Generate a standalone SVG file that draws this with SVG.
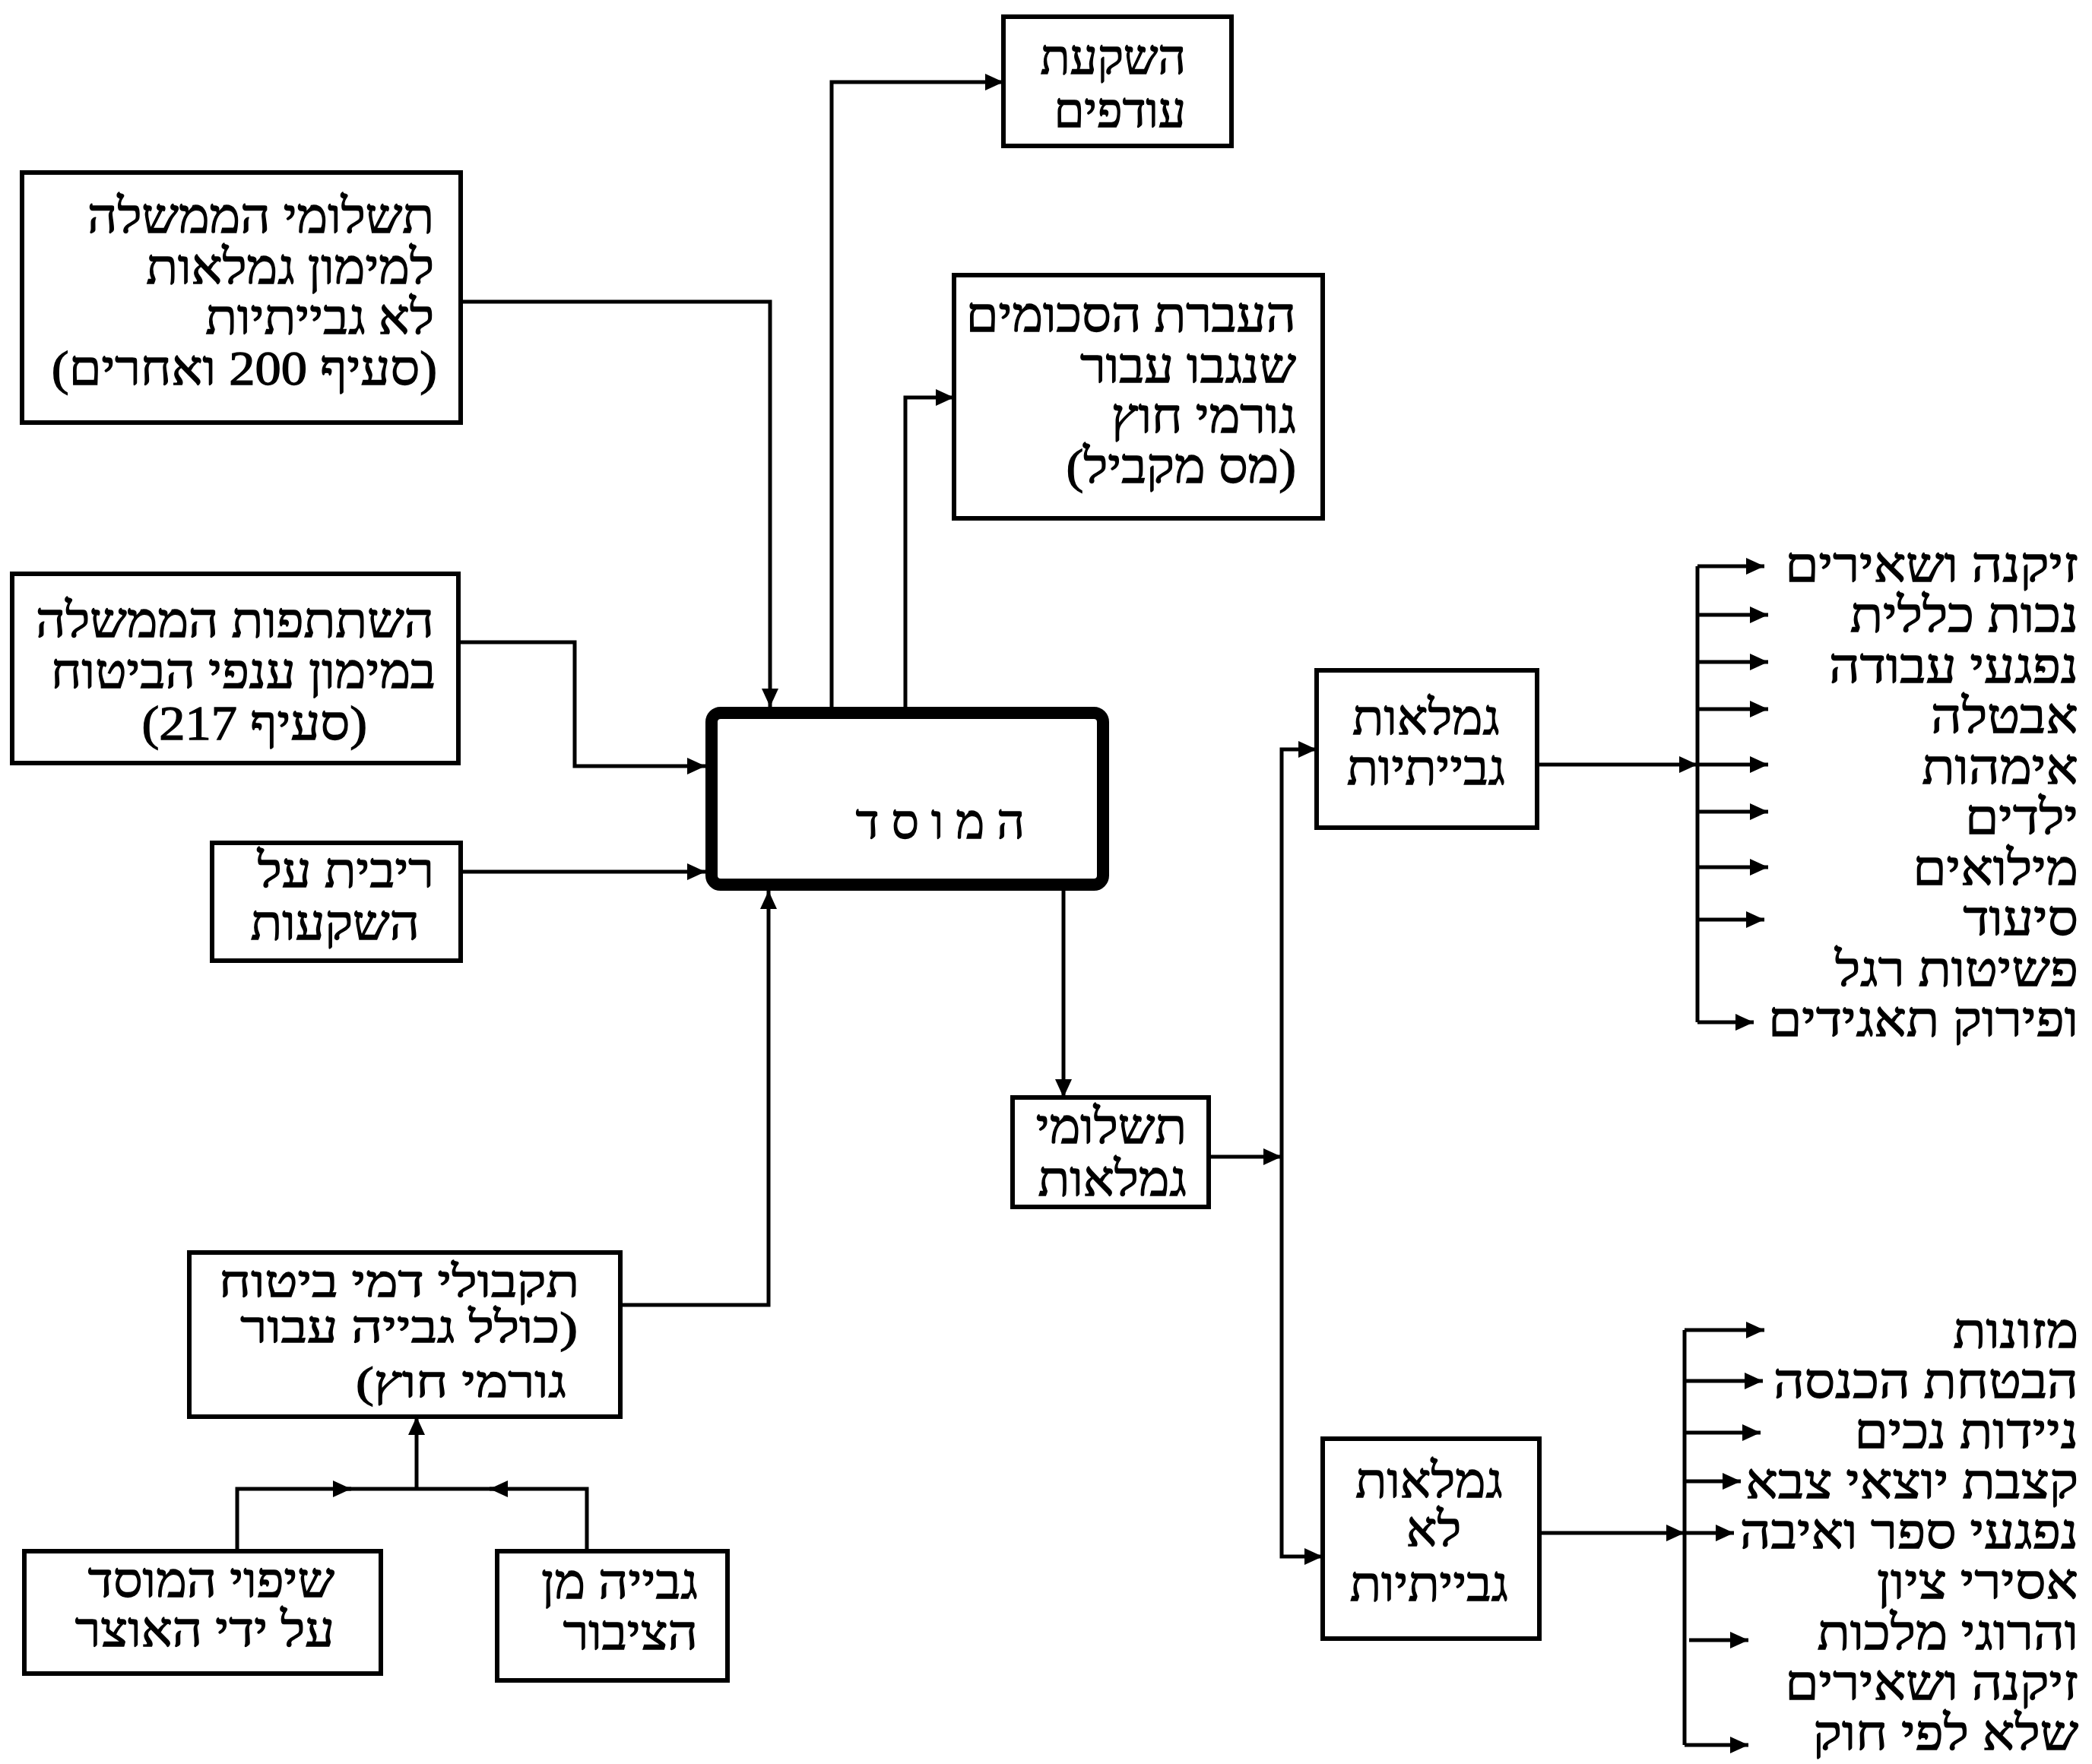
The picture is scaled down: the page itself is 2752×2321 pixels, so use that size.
<svg xmlns="http://www.w3.org/2000/svg" width="2752" height="2321" viewBox="0 0 2752 2321">
<style>
.box{fill:#fff;stroke:#000;stroke-width:6}
.core{fill:#fff;stroke:#000;stroke-width:16}
.ln{fill:none;stroke:#000;stroke-width:5}
text{font-family:"Liberation Serif","DejaVu Sans",serif;font-size:64px;fill:#000;stroke:#000;stroke-width:1.3;direction:rtl;unicode-bidi:embed;transform-box:fill-box}
.r{text-anchor:start;transform-origin:100% 50%;transform:scaleX(1.07)}
.m{text-anchor:middle;transform-origin:50% 50%;transform:scaleX(1.06)}
.n{transform:none}
.l{transform:scaleX(1.11)}
.e{font-size:58px;transform:scaleX(1.23)}
</style>
<defs>
<marker id="ah" markerUnits="userSpaceOnUse" markerWidth="26" markerHeight="22" refX="24" refY="11" orient="auto">
<path d="M0,0 L24,11 L0,22 z" fill="#000"/>
</marker>
</defs>
<rect width="2752" height="2321" fill="#fff"/>
<g id="connectors">
<path class="ln" d="M606,397 H1013 V930" marker-end="url(#ah)"/>
<path class="ln" d="M1094,930 V108 H1320" marker-end="url(#ah)"/>
<path class="ln" d="M1191,930 V523 H1255" marker-end="url(#ah)"/>
<path class="ln" d="M603,845 H756 V1008 H928" marker-end="url(#ah)"/>
<path class="ln" d="M606,1147 H928" marker-end="url(#ah)"/>
<path class="ln" d="M816,1717 H1011 V1172" marker-end="url(#ah)"/>
<path class="ln" d="M1399,1172 V1444" marker-end="url(#ah)"/>
<path class="ln" d="M1590,1522 H1686" marker-end="url(#ah)"/>
<path class="ln" d="M1686,1522 V986 H1732" marker-end="url(#ah)"/>
<path class="ln" d="M1686,1522 V2048 H1740" marker-end="url(#ah)"/>
<path class="ln" d="M2022,1006 H2233" marker-end="url(#ah)"/>
<path class="ln" d="M2233,745 V1345"/>
<path class="ln" d="M2233,745 H2321" marker-end="url(#ah)"/>
<path class="ln" d="M2233,809 H2326" marker-end="url(#ah)"/>
<path class="ln" d="M2233,871 H2326" marker-end="url(#ah)"/>
<path class="ln" d="M2233,933 H2326" marker-end="url(#ah)"/>
<path class="ln" d="M2233,1006 H2326" marker-end="url(#ah)"/>
<path class="ln" d="M2233,1068 H2326" marker-end="url(#ah)"/>
<path class="ln" d="M2233,1141 H2326" marker-end="url(#ah)"/>
<path class="ln" d="M2233,1210 H2321" marker-end="url(#ah)"/>
<path class="ln" d="M2233,1345 H2307" marker-end="url(#ah)"/>
<path class="ln" d="M2025,2017 H2216" marker-end="url(#ah)"/>
<path class="ln" d="M2216,1750 V2296"/>
<path class="ln" d="M2216,1750 H2321" marker-end="url(#ah)"/>
<path class="ln" d="M2216,1817 H2319" marker-end="url(#ah)"/>
<path class="ln" d="M2216,1885 H2316" marker-end="url(#ah)"/>
<path class="ln" d="M2216,1949 H2290" marker-end="url(#ah)"/>
<path class="ln" d="M2216,2017 H2281" marker-end="url(#ah)"/>
<path class="ln" d="M2222,2158 H2300" marker-end="url(#ah)"/>
<path class="ln" d="M2216,2296 H2300" marker-end="url(#ah)"/>
<path class="ln" d="M312,2041 V1959 H462" marker-end="url(#ah)"/>
<path class="ln" d="M455,1959 H650"/>
<path class="ln" d="M772,2041 V1959 H644" marker-end="url(#ah)"/>
<path class="ln" d="M548,1959 V1864" marker-end="url(#ah)"/>
</g>
<g id="n-gov-payments">
<rect class="box" x="29" y="227" width="577" height="329"/>
<text class="r" x="571" y="306">תשלומי הממשלה</text>
<text class="r" x="571" y="373">למימון גמלאות</text>
<text class="r" x="571" y="439">לא גבייתיות</text>
<text class="r" x="575" y="506">(סעיף 200 ואחרים)</text>
</g>
<g id="n-surplus">
<rect class="box" x="1320" y="22" width="300" height="170"/>
<text class="r n" x="1560" y="97">השקעת</text>
<text class="r n" x="1560" y="167">עודפים</text>
</g>
<g id="n-transfer">
<rect class="box" x="1255" y="362" width="485" height="320"/>
<text class="r" x="1705" y="436">העברת הסכומים</text>
<text class="r" x="1705" y="503">שנגבו עבור</text>
<text class="r" x="1705" y="569">גורמי חוץ</text>
<text class="r" x="1705" y="635">(מס מקביל)</text>
</g>
<g id="n-gov-share">
<rect class="box" x="16" y="755" width="587" height="249"/>
<text class="r" x="571" y="838">השתתפות הממשלה</text>
<text class="r" x="573" y="905">במימון ענפי הביטוח</text>
<text class="r" x="483" y="973">(סעיף 217)</text>
</g>
<g id="n-interest">
<rect class="box" x="279" y="1109" width="327" height="155"/>
<text class="r" x="571" y="1167">ריבית על</text>
<text class="r" x="552" y="1236">השקעות</text>
</g>
<g id="n-institute">
<rect class="core" x="936" y="938" width="515" height="226" rx="12"/>
<text class="r n" x="1348" y="1103">ה מ ו ס ד</text>
</g>
<g id="n-benefit-payments">
<rect class="box" x="1332" y="1444" width="258" height="144"/>
<text class="r" x="1561" y="1504">תשלומי</text>
<text class="r" x="1561" y="1573">גמלאות</text>
</g>
<g id="n-contrib">
<rect class="box" x="1732" y="882" width="290" height="207"/>
<text class="m" x="1876" y="966">גמלאות</text>
<text class="m" x="1876" y="1032">גבייתיות</text>
</g>
<g id="n-noncontrib">
<rect class="box" x="1740" y="1893" width="285" height="263"/>
<text class="m" x="1880" y="1970">גמלאות</text>
<text class="m" x="1886" y="2034">לא</text>
<text class="m" x="1880" y="2106">גבייתיות</text>
</g>
<g id="n-receipts">
<rect class="box" x="249" y="1648" width="567" height="216"/>
<text class="r e" x="762" y="1706">תקבולי דמי ביטוח</text>
<text class="r e" x="760" y="1766">(כולל גבייה עבור</text>
<text class="r e" x="745" y="1838">גורמי חוץ)</text>
</g>
<g id="n-treasury">
<rect class="box" x="32" y="2041" width="469" height="161"/>
<text class="r" x="440" y="2101">שיפוי המוסד</text>
<text class="r" x="440" y="2166">על ידי האוצר</text>
</g>
<g id="n-public">
<rect class="box" x="654" y="2041" width="303" height="170"/>
<text class="r" x="918" y="2103">גבייה מן</text>
<text class="r" x="918" y="2170">הציבור</text>
</g>
<g id="n-contrib-list">
<text class="r l" x="2734" y="765">זיקנה ושאירים</text>
<text class="r l" x="2734" y="831">נכות כללית</text>
<text class="r l" x="2734" y="898">נפגעי עבודה</text>
<text class="r l" x="2734" y="964">אבטלה</text>
<text class="r l" x="2734" y="1031">אימהות</text>
<text class="r l" x="2734" y="1097">ילדים</text>
<text class="r l" x="2734" y="1164">מילואים</text>
<text class="r l" x="2734" y="1230">סיעוד</text>
<text class="r l" x="2734" y="1297">פשיטות רגל</text>
<text class="r l" x="2734" y="1363">ופירוק תאגידים</text>
</g>
<g id="n-noncontrib-list">
<text class="r l" x="2734" y="1773">מזונות</text>
<text class="r l" x="2734" y="1839">הבטחת הכנסה</text>
<text class="r l" x="2734" y="1905">ניידות נכים</text>
<text class="r l" x="2734" y="1971">קצבת יוצאי צבא</text>
<text class="r l" x="2734" y="2037">נפגעי ספר ואיבה</text>
<text class="r l" x="2734" y="2103">אסירי ציון</text>
<text class="r l" x="2734" y="2170">והרוגי מלכות</text>
<text class="r l" x="2734" y="2236">זיקנה ושאירים</text>
<text class="r l" x="2734" y="2302">שלא לפי חוק</text>
</g>
</svg>
